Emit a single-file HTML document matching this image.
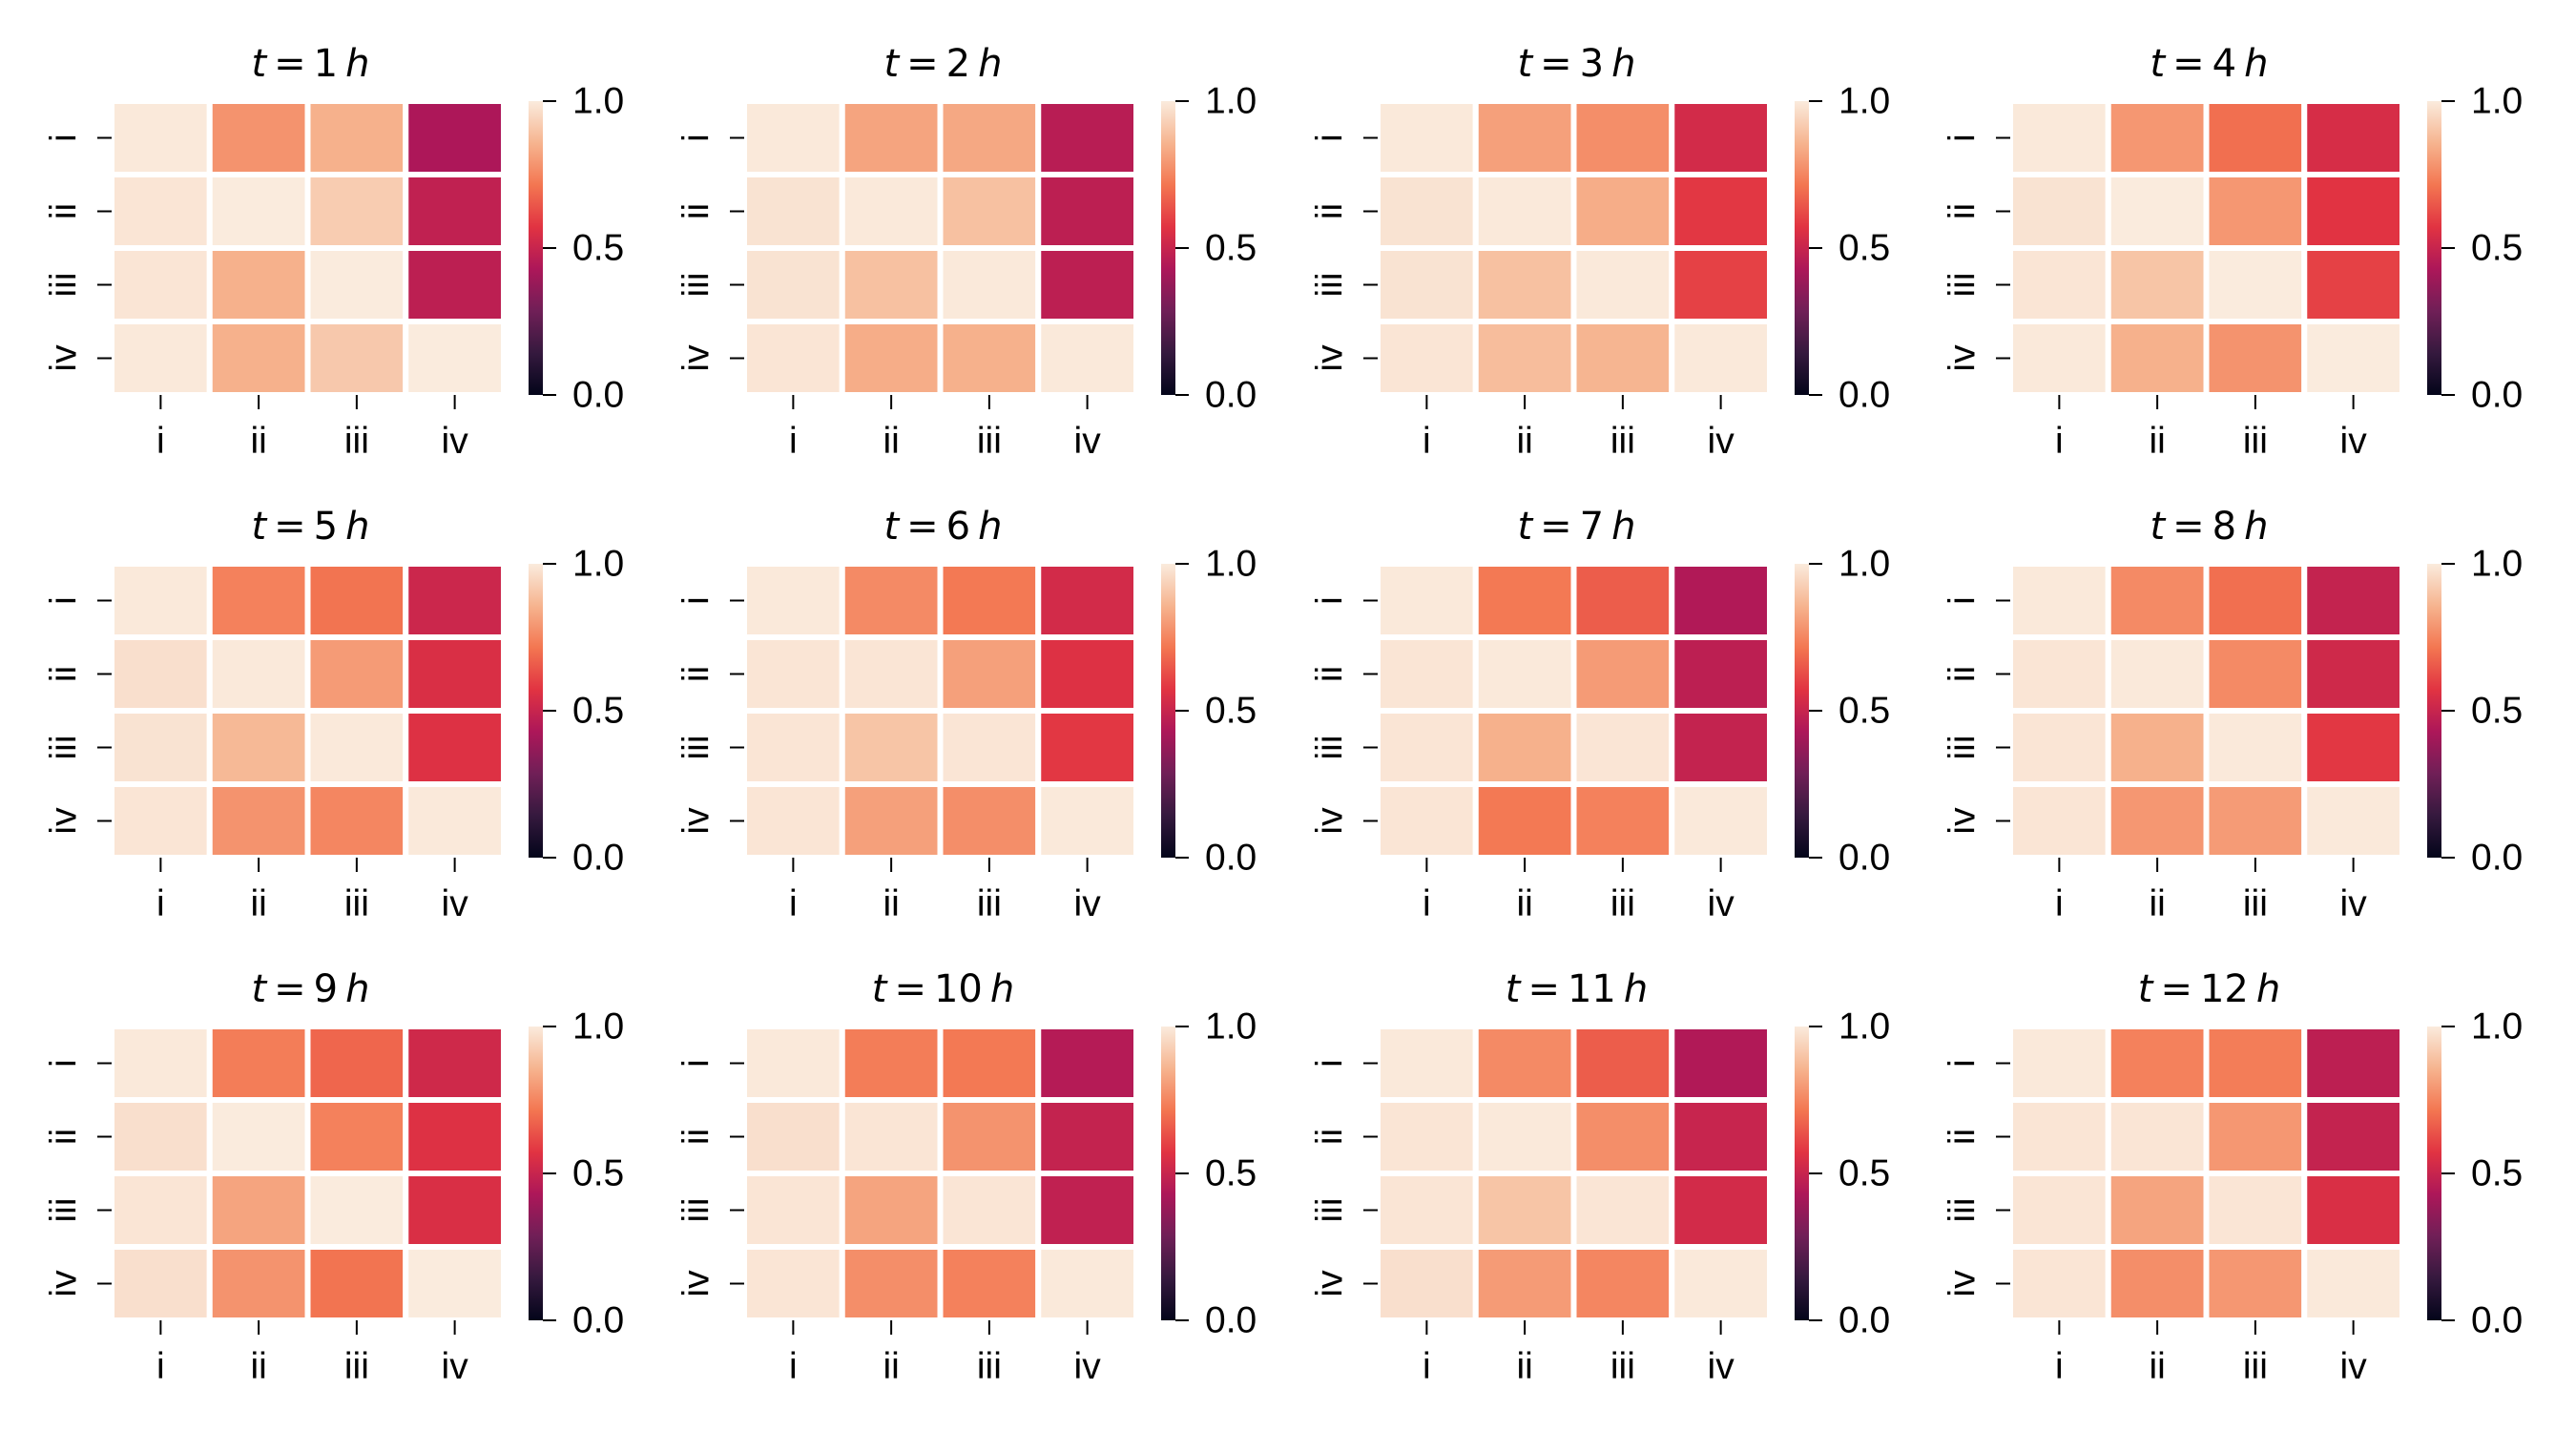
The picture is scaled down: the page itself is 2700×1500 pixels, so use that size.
<!DOCTYPE html>
<html><head><meta charset="utf-8">
<style>
html,body{margin:0;padding:0;background:#fff;}
svg{display:block;}
text{font-family:"Liberation Sans",Arial,sans-serif;fill:#000;}
</style></head>
<body>
<svg id="fig" width="2700" height="1500" viewBox="0 0 2700 1500" xmlns="http://www.w3.org/2000/svg">
<defs>
<linearGradient id="rocket" x1="0" y1="1" x2="0" y2="0">
<stop offset="0" stop-color="#03051a"/>
<stop offset="0.143" stop-color="#35193e"/>
<stop offset="0.286" stop-color="#701f57"/>
<stop offset="0.429" stop-color="#ad1759"/>
<stop offset="0.571" stop-color="#e13342"/>
<stop offset="0.714" stop-color="#f37651"/>
<stop offset="0.857" stop-color="#f6b48f"/>
<stop offset="1" stop-color="#faebdd"/>
</linearGradient>
</defs>
</svg>
<script>
const hours = [1,2,3,4,5,6,7,8,9,10,11,12];
const rowLabels = ["i","ii","iii","iv"];
const colLabels = ["i","ii","iii","iv"];
const cbTicks = [0.0, 0.5, 1.0];
const m1 = [[.995,.78,.85,.43],[.985,1,.92,.48],[.985,.85,1,.47],[.995,.85,.91,1]];
const m2 = [[.995,.82,.83,.46],[.98,.995,.89,.47],[.98,.89,.995,.47],[.985,.84,.85,.995]];
const m3 = [[.995,.81,.77,.53],[.98,.995,.84,.58],[.98,.89,.995,.60],[.985,.88,.86,.995]];
const m4 = [[.995,.79,.70,.54],[.98,1,.79,.57],[.985,.90,1,.60],[.995,.85,.78,1]];
const m5 = [[.995,.74,.71,.51],[.97,.995,.80,.55],[.98,.87,.995,.56],[.985,.78,.75,.995]];
const m6 = [[.995,.76,.72,.53],[.985,.985,.81,.56],[.985,.90,.985,.58],[.985,.81,.77,.995]];
const m7 = [[.995,.72,.66,.44],[.985,.995,.80,.47],[.985,.85,.985,.49],[.985,.72,.74,.995]];
const m8 = [[.995,.76,.70,.49],[.985,.995,.76,.52],[.985,.85,.995,.58],[.985,.79,.80,.995]];
const m9 = [[.995,.73,.68,.52],[.97,1,.74,.56],[.985,.82,1,.55],[.97,.78,.71,1]];
const m10 = [[.995,.73,.72,.45],[.97,.985,.78,.49],[.985,.82,.985,.48],[.985,.77,.74,.995]];
const m11 = [[.995,.76,.66,.44],[.985,.995,.77,.50],[.985,.90,.985,.53],[.97,.80,.75,.995]];
const m12 = [[.995,.74,.73,.47],[.985,.985,.79,.49],[.985,.82,.985,.55],[.985,.77,.79,.995]];
const matrices = [m1,m2,m3,m4,m5,m6,m7,m8,m9,m10,m11,m12];

const stops = [[0,[3,5,26]],[.143,[53,25,62]],[.286,[112,31,87]],[.429,[173,23,89]],[.571,[225,51,66]],[.714,[243,118,81]],[.857,[246,180,143]],[1,[250,235,221]]];
function rocket(v){
  v=Math.max(0,Math.min(1,v));
  for(let i=1;i<stops.length;i++){
    if(v<=stops[i][0]){
      const a=stops[i-1],b=stops[i],t=(v-a[0])/(b[0]-a[0]);
      const c=a[1].map((x,k)=>Math.round(x+(b[1][k]-x)*t));
      return `rgb(${c[0]},${c[1]},${c[2]})`;
    }
  }
  return "rgb(250,235,221)";
}
const NS="http://www.w3.org/2000/svg";
const svg=document.getElementById("fig");
function mk(tag,attrs,parent){const e=document.createElementNS(NS,tag);for(const k in attrs)e.setAttribute(k,attrs[k]);(parent||svg).appendChild(e);return e;}
const colX=[117,780,1444,2107], rowY=[106,591,1076];
const AW=411, AH=308, CBW=15;
hours.forEach((h,p)=>{
  const x0=colX[p%4], y0=rowY[Math.floor(p/4)];
  const g=mk("g",{});
  
  
  const xs=j=>x0+j*AW/4, ys=i=>y0+i*AH/4;
  const cbScale=v=>y0+AH-v*AH;
  const t=mk("text",{x:x0+AW/2+3,y:y0-26,"text-anchor":"middle","font-size":40,style:'font-family:"DejaVu Sans",sans-serif'},g);
  
  
  t.innerHTML=`<tspan font-style="italic">t</tspan><tspan>\u2009=\u2009${h}\u2009</tspan><tspan font-style="italic">h</tspan>`;
  const M=matrices[p];
  M.forEach((row,i)=>row.forEach((v,j)=>{
    const r=mk("rect",{x:xs(j),y:ys(i),width:AW/4,height:AH/4,fill:rocket(v),stroke:"#fff","stroke-width":6},g);
    
    
  }));
  rowLabels.forEach((l,i)=>{
    const cy=ys(i+0.5);
    mk("line",{x1:x0-15,x2:x0,y1:cy,y2:cy,stroke:"#000","stroke-width":2},g);
    const tl=mk("text",{x:0,y:0,"text-anchor":"middle","dominant-baseline":"central","font-size":39,transform:`translate(${x0-50},${cy}) rotate(-90)`},g);
    
    
    tl.textContent=l;
  });
  colLabels.forEach((l,j)=>{
    const cx=xs(j+0.5);
    mk("line",{x1:cx,x2:cx,y1:y0+AH,y2:y0+AH+15,stroke:"#000","stroke-width":2},g);
    const tl=mk("text",{x:cx,y:y0+AH+61,"text-anchor":"middle","font-size":39},g);
    
    
    tl.textContent=l;
  });
  const cbx=x0+437;
  const cb=mk("rect",{x:cbx,y:y0,width:CBW,height:AH,fill:"url(#rocket)"},g);
  
  
  cbTicks.forEach(v=>{
    const yy=cbScale(v);
    mk("line",{x1:cbx+CBW,x2:cbx+CBW+14,y1:yy,y2:yy,stroke:"#000","stroke-width":2},g);
    const tl=mk("text",{x:cbx+CBW+31,y:yy,"dominant-baseline":"central","font-size":39},g);
    
    
    tl.textContent=v.toFixed(1);
  });
});
</script>
</body></html>
